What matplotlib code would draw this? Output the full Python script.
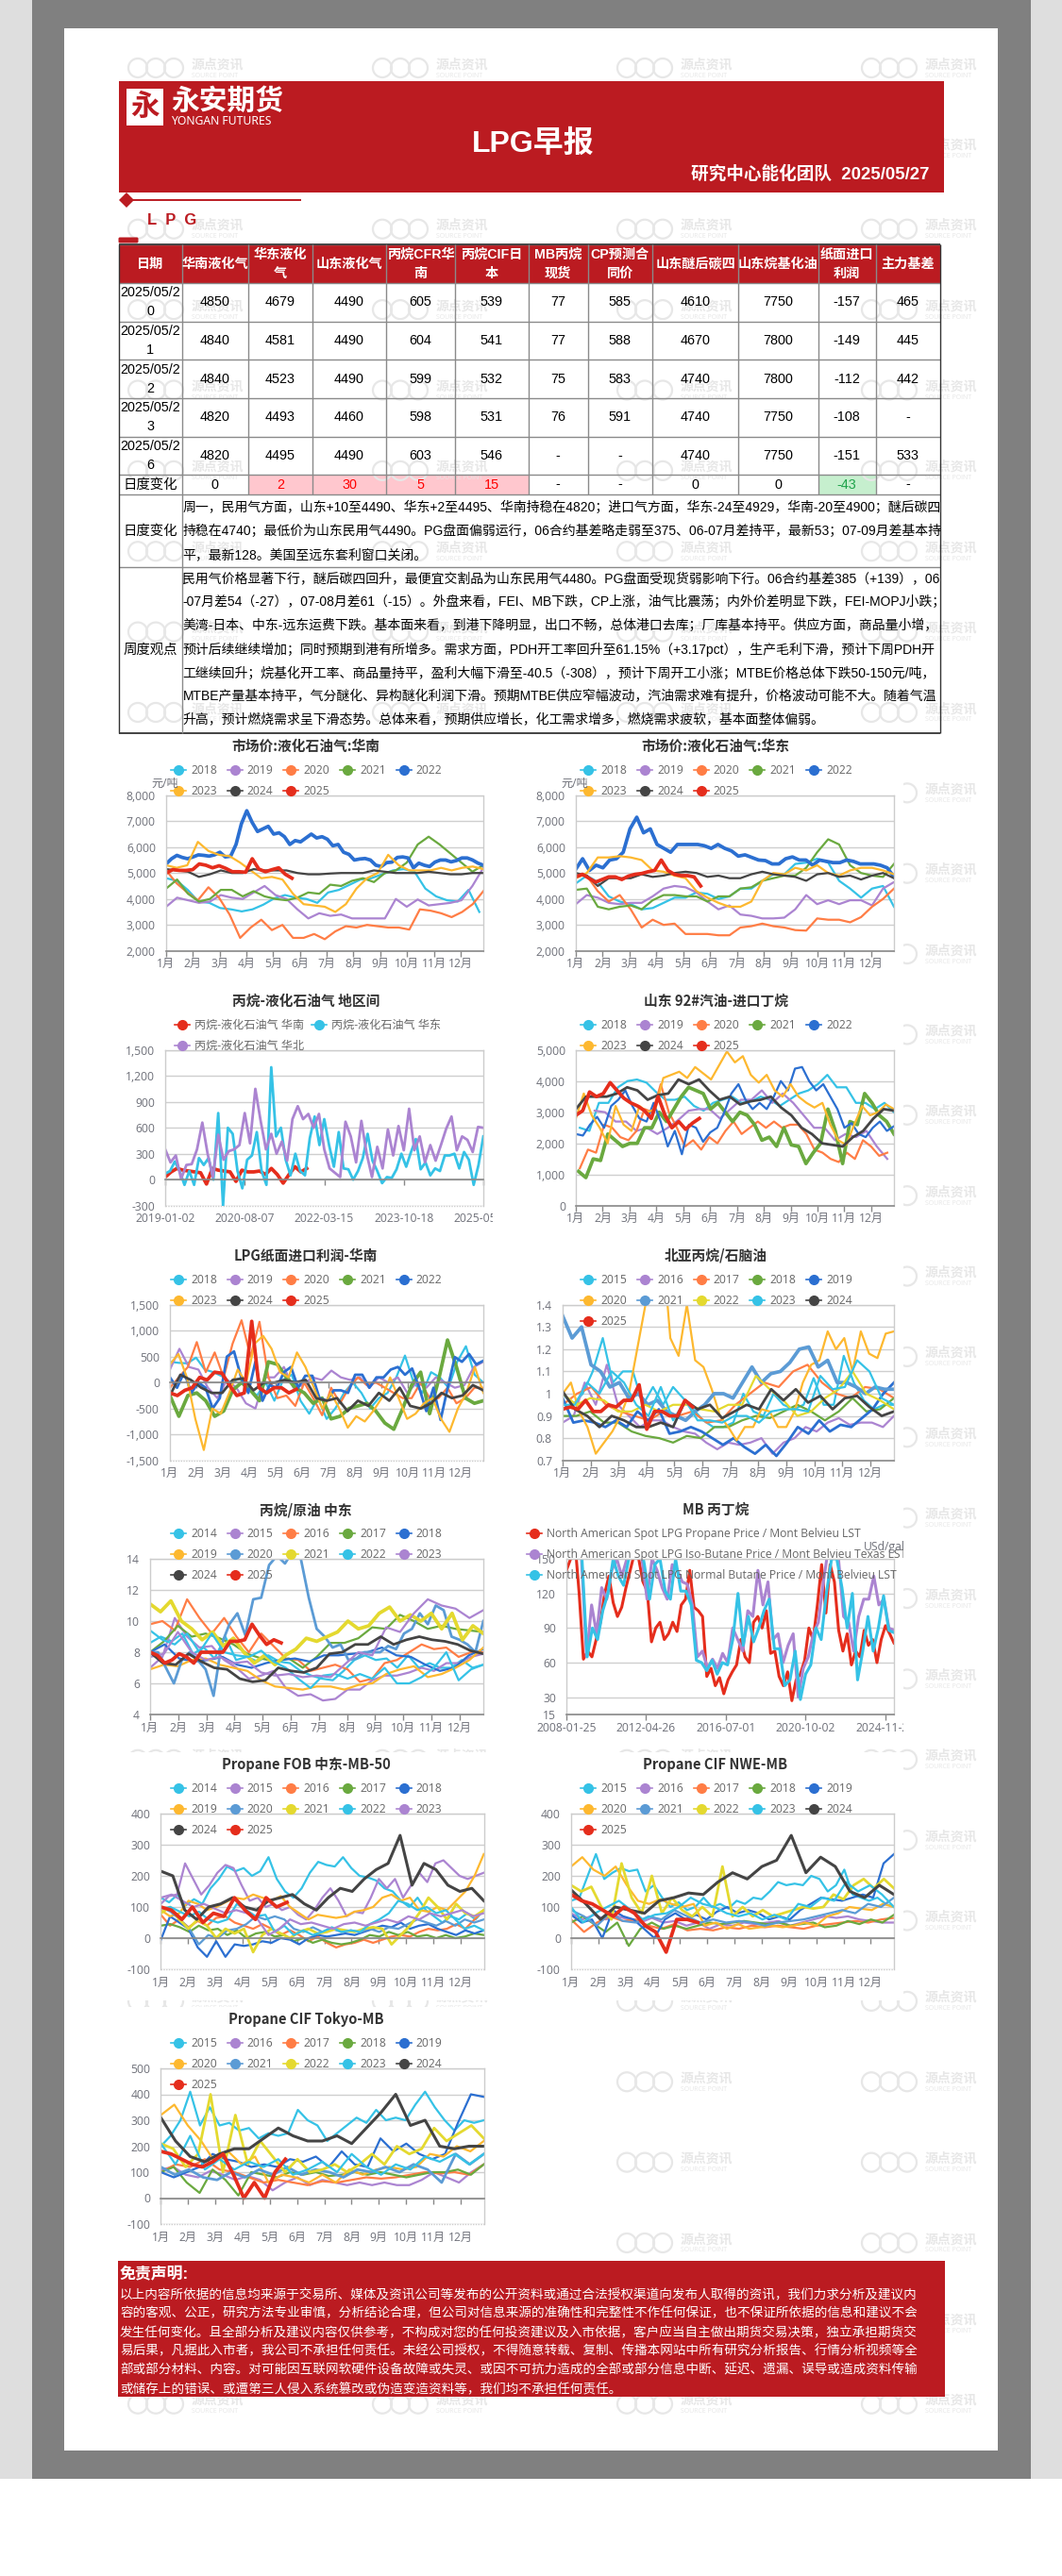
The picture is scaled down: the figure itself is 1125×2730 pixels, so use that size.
#encoding:utf-8
import numpy as np
import matplotlib
matplotlib.use('Agg')
import matplotlib.pyplot as plt
from matplotlib.patches import Rectangle, Circle, Polygon, FancyBboxPatch
from matplotlib.transforms import Bbox

W, H = 1125, 2730
plt.rcParams['font.family'] = ['Open Sans', 'Noto Sans CJK SC', 'DejaVu Sans']
TABLE_FONT = ['Liberation Sans', 'Noto Sans CJK SC']
CJK_BOLD = ['Noto Sans CJK SC', 'DejaVu Sans']
RED = '#bb1b21'

# ---------- table ----------
col_names = [['日期'], ['华南液化气'], ['华东液化', '气'], ['山东液化气'], ['丙烷CFR华', '南'], ['丙烷CIF日', '本'],
             ['MB丙烷', '现货'], ['CP预测合', '同价'], ['山东醚后碳四'], ['山东烷基化油'], ['纸面进口', '利润'], ['主力基差']]
row_dates = [['2025/05/2', '0'], ['2025/05/2', '1'], ['2025/05/2', '2'], ['2025/05/2', '3'], ['2025/05/2', '6']]
row_vals = [['4850', '4679', '4490', '605', '539', '77', '585', '4610', '7750', '-157', '465'],
            ['4840', '4581', '4490', '604', '541', '77', '588', '4670', '7800', '-149', '445'],
            ['4840', '4523', '4490', '599', '532', '75', '583', '4740', '7800', '-112', '442'],
            ['4820', '4493', '4460', '598', '531', '76', '591', '4740', '7750', '-108', '-'],
            ['4820', '4495', '4490', '603', '546', '-', '-', '4740', '7750', '-151', '533']]
change_vals = ['0', '2', '30', '5', '15', '-', '-', '0', '0', '-43', '-']
daily_lines = ['周一，民用气方面，山东+10至4490、华东+2至4495、华南持稳在4820；进口气方面，华东-24至4929，华南-20至4900；醚后碳四',
               '持稳在4740；最低价为山东民用气4490。PG盘面偏弱运行，06合约基差略走弱至375、06-07月差持平，最新53；07-09月差基本持',
               '平，最新128。美国至远东套利窗口关闭。']
weekly_lines = ['民用气价格显著下行，醚后碳四回升，最便宜交割品为山东民用气4480。PG盘面受现货弱影响下行。06合约基差385（+139），06',
                '-07月差54（-27），07-08月差61（-15）。外盘来看，FEI、MB下跌，CP上涨，油气比震荡；内外价差明显下跌，FEI-MOPJ小跌；',
                '美湾-日本、中东-远东运费下跌。基本面来看，到港下降明显，出口不畅，总体港口去库；厂库基本持平。供应方面，商品量小增，',
                '预计后续继续增加；同时预期到港有所增多。需求方面，PDH开工率回升至61.15%（+3.17pct），生产毛利下滑，预计下周PDH开',
                '工继续回升；烷基化开工率、商品量持平，盈利大幅下滑至-40.5（-308），预计下周开工小涨；MTBE价格总体下跌50-150元/吨，',
                'MTBE产量基本持平，气分醚化、异构醚化利润下滑。预期MTBE供应窄幅波动，汽油需求难有提升，价格波动可能不大。随着气温',
                '升高，预计燃烧需求呈下滑态势。总体来看，预期供应增长，化工需求增多，燃烧需求疲软，基本面整体偏弱。']
disclaimer_lines = ['以上内容所依据的信息均来源于交易所、媒体及资讯公司等发布的公开资料或通过合法授权渠道向发布人取得的资讯，我们力求分析及建议内',
                    '容的客观、公正，研究方法专业审慎，分析结论合理，但公司对信息来源的准确性和完整性不作任何保证，也不保证所依据的信息和建议不会',
                    '发生任何变化。且全部分析及建议内容仅供参考，不构成对您的任何投资建议及入市依据，客户应当自主做出期货交易决策，独立承担期货交',
                    '易后果，凡据此入市者，我公司不承担任何责任。未经公司授权，不得随意转载、复制、传播本网站中所有研究分析报告、行情分析视频等全',
                    '部或部分材料、内容。对可能因互联网软硬件设备故障或失灵、或因不可抗力造成的全部或部分信息中断、延迟、遗漏、误导或造成资料传输',
                    '或储存上的错误、或遭第三人侵入系统篡改或伪造变造资料等，我们均不承担任何责任。']

months = ['1月', '2月', '3月', '4月', '5月', '6月', '7月', '8月', '9月', '10月', '11月', '12月']

# ---------- 市场价 华南 ----------
c1_2018 = [4800, 4700, 4350, 3900, 3850, 3650, 3600, 3520, 3600, 3780, 4020, 4150, 4050, 4000, 3850, 4250, 4350, 4550, 4750, 4800, 4950, 5100, 5150, 5050, 4400, 4100, 3950, 3900, 4350, 3500]
c1_2019 = [3700, 4050, 3950, 3850, 3900, 4150, 4050, 4000, 4250, 4500, 4150, 4000, 3600, 3250, 3450, 3350, 3400, 3250, 3250, 3250, 3250, 4000, 3700, 3980, 3750, 3800, 3850, 3950, 4500, 5200]
c1_2020 = [5100, 4600, 4250, 3950, 4450, 4050, 3400, 2500, 2900, 3200, 2800, 3000, 2500, 2500, 2650, 2450, 2750, 2950, 2900, 3000, 2950, 2900, 2900, 2820, 3600, 3550, 3450, 3300, 3500, 3800, 4300]
c1_2021 = [4400, 4750, 4200, 3900, 4000, 4350, 4350, 4100, 4300, 4100, 4000, 3950, 4050, 4250, 4200, 4550, 4500, 4700, 4800, 4650, 5000, 5100, 5400, 6100, 6400, 6100, 5750, 5400, 5050, 5300]
c1_2022 = [5350, 5550, 5680, 5600, 5550, 5620, 5700, 5680, 5650, 5700, 5800, 5620, 5650, 6100, 6900, 7400, 6950, 6600, 6700, 6800, 6500, 6550, 6400, 6100,
           6250, 6200, 6350, 6500, 6350, 6400, 6300, 6050, 6100, 5800, 5720, 5500, 5540, 5560, 5500, 5300, 5250, 5400, 5420, 5600, 5620, 5580, 5200, 5380,
           5300, 5250, 5420, 5500, 5500, 5430, 5480, 5580, 5580, 5500, 5380, 5300]
c1_2023 = [5300, 5200, 5300, 6200, 5850, 5700, 5650, 5400, 5100, 4800, 4850, 4750, 4200, 3800, 3750, 3700, 3500, 3800, 4400, 4800, 5000, 5700, 5300, 5100, 5100, 5100, 5200, 5100, 5200, 5250, 5150]
c1_2024 = [5150, 5100, 5050, 4850, 4950, 5100, 5000, 5000, 5150, 5100, 5100, 5100, 5000, 4950, 4950, 4980, 5000, 5000, 5000, 5100, 5050, 5000, 5000, 5000, 5050, 5000, 4950, 4950, 5000, 5000]
c1_2025 = [5000, 5130, 5100, 5100, 5130, 5350, 5300, 5200, 5280, 5180, 5050, 5050, 5030, 5550, 5150, 5050, 5130, 5200, 4950, 4800]

# ---------- 市场价 华东 ----------
c2_2018 = [4600, 4900, 4650, 4100, 3900, 3800, 3600, 3650, 3850, 4050, 4050, 4250, 4200, 4000, 4100, 4400, 4400, 4700, 4950, 4950, 5350, 5400, 5550, 5400, 4700, 4400, 4050, 4400, 4500, 3700]
c2_2019 = [3800, 4150, 4050, 3850, 3800, 3850, 3850, 4100, 4400, 4500, 4450, 4250, 3900, 3600, 3750, 3400, 3350, 3250, 3250, 3280, 3600, 4150, 3800, 3950, 3800, 3950, 3950, 3750, 4400, 4650]
c2_2020 = [4900, 4900, 4300, 3900, 4150, 3600, 2900, 3200, 3000, 3050, 2650, 2650, 2650, 2600, 2600, 2900, 2950, 3050, 2950, 2900, 2800, 2780, 3250, 3200, 3200, 3100, 3300, 3700, 4000, 4400]
c2_2021 = [4350, 4400, 3700, 3600, 3700, 3750, 3600, 3950, 4150, 4150, 4100, 4100, 3900, 4100, 4100, 4400, 4450, 4700, 4800, 4900, 4900, 5200, 5800, 6300, 6100, 5300, 5000, 4900, 4850, 5350]
c2_2022 = [5150, 5550, 5100, 5300, 5200, 5500, 5550, 5800, 6700, 7150, 6550, 6700, 6100, 5950, 5800, 6100, 6100, 6100, 6100, 6050, 5950, 6100, 5950, 5850,
           5650, 5700, 5600, 5500, 5480, 5350, 5350, 5550, 5620, 5500, 5500, 5300, 5500, 5450, 5400, 5400, 5500, 5450, 5350, 5350, 5350, 5300, 5200, 4850]
c2_2023 = [4800, 5000, 5600, 5600, 5650, 5600, 5500, 5100, 5050, 4900, 4800, 4300, 4050, 3850, 3700, 3700, 3900, 4700, 5000, 4950, 5200, 5100, 5300, 5000, 4900, 5100, 5200, 5200, 5100, 4950]
c2_2024 = [5000, 4900, 4500, 4800, 4800, 4800, 4950, 4850, 4900, 5000, 5050, 5000, 4850, 4900, 4800, 4800, 4950, 5050, 4950, 4900, 4850, 4700, 4950, 5000, 4850, 4900, 4750, 4900, 5000, 4800]
c2_2025 = [4850, 4950, 4800, 4650, 4750, 4850, 4850, 4750, 4880, 4950, 4980, 5050, 5100, 5500, 5100, 4950, 4900, 4900, 4850, 4500]

# ---------- 丙烷-液化石油气 地区间 ----------
c3_south = [30, 90, 130, 110, 100, 90, 80, -50, 130, 110, 100, 90, -20, 110, 90, 90, 100, 60, 130, 60, -40, 60, 150, 90, 130]
c3_east = [70, 100, 210, 100, -60, 100, -60, 250, 170, 250, 0, 770, -300, 600, 530, 100, -100, 230, 280, 550, 100, -60, 1300, 500, 600, 230, 50, 300, 100, 50, 480, 730, 400, 700, 400, 150,
           550, 130, 120, 0, 100, 250, 530, 220, 100, -40, 30, 20, 120, 300, 150, 320, 470, 120, 200, 50, 130, 100, 280, 280, 300, 130, 320, 230, -60, 170, 500]
c3_north = [350, 200, 280, 10, 170, 180, 350, 660, 300, 30, 520, 230, 330, 350, 400, 770, 420, 1050, 680, 350, 530, 300, 440, 220, 700, 850, 700, 760, 600, 760, 350, 130, 80, 30,
            670, 500, 200, 680, 300, 30, 380, 130, 580, 280, 620, 340, 820, 340, 500, 200, 400, 220, 400, 590, 730, 340, 500, 460, 320, 610, 600]
c3_dates = ['2019-01-02', '2020-08-07', '2022-03-15', '2023-10-18', '2025-05-26']

# ---------- 山东 92#汽油-进口丁烷 ----------
c4_2018 = [2500, 2400, 3300, 3300, 3800, 4000, 4050, 3950, 3650, 3400, 3400, 3500, 3200, 3050, 3300, 3400, 3500, 3300, 3350, 3500, 3400, 3200, 3400, 3600, 3700, 3900, 4200, 3800, 3800, 3300, 3300, 3100, 3300, 3000]
c4_2019 = [3050, 3000, 2700, 2700, 2400, 2500, 2300, 2500, 2750, 3050, 3100, 3100, 2800, 3100, 3400, 3400, 3700, 3300, 3600, 3300, 2900, 2500, 2500, 2100, 2300, 2200, 2400, 1900, 1500]
c4_2020 = [1200, 1800, 1700, 2600, 2500, 2200, 2100, 2400, 3100, 3000, 3900, 3000, 2500, 1900, 2100, 1800, 2200, 2000, 2400, 2700, 2300, 2500, 2700, 2500, 2700, 2500, 2600, 2600, 2300, 1800, 1700, 1500, 1400, 1700, 1500, 2100, 1900, 1600, 1700]
c4_2021 = [1100, 900, 1500, 1450, 2300, 2100, 1900, 2000, 2000, 2500, 2500, 3000, 2700, 3100, 3500, 3800, 3700, 3600, 3100, 3300, 3000, 2700, 3000, 2900, 2600, 2100, 2200, 1900, 2500, 1950, 1900, 1350, 1700, 2000, 3100, 2400, 1350, 2700, 2600, 3600, 3300, 2900, 2700, 2300]
c4_2022 = [2300, 2250, 2600, 2850, 2500, 3200, 3400, 3700, 3200, 2800, 2700, 3300, 2700, 1900, 2400, 1650, 2600, 2500, 2050, 2350, 2500, 3000, 3600, 3900, 3400, 3100, 3300, 3100, 3500, 4000, 3700, 4400, 4450, 4000, 3700, 3900, 3500, 3100, 2500, 2650, 2300, 2200, 2500, 2700, 2400, 2550]
c4_2023 = [2800, 3600, 2900, 2500, 2000, 3200, 2600, 2400, 3200, 3000, 3100, 4100, 4200, 4300, 4100, 4450, 4250, 4050, 4500, 4950, 4600, 4800, 4200, 3950, 4200, 3700, 3500, 3900, 3500, 3300, 3150, 3300, 2600, 2100, 1950, 2600, 3200, 2900, 3000, 3250, 3100]
c4_2024 = [3100, 3500, 3500, 3500, 3600, 3800, 3700, 3400, 3550, 3600, 4050, 3900, 4050, 3700, 3400, 3500, 3250, 3350, 3400, 3500, 3150, 2900, 2500, 2300, 2000, 1950, 1900, 2200, 2400, 2800, 3100, 3050]
c4_2025 = [2900, 3050, 3650, 3500, 3600, 3950, 3700, 3450, 3300, 3200, 3050, 2800, 3500, 2900, 2500, 2700, 2450, 2650, 2800]

# ---------- LPG纸面进口利润-华南 ----------
c5_2018 = [400, 380, 370, 480, 250, 200, 120, 0, 80, -100, -250, 0, -350, 50, 150, -350, -600, -300, -700, -500, -200, 0, -200, -500, -300, -200, 100, 520, 0, -200, 200, 100, -100, 400, 700, 150, 0]
c5_2019 = [250, 650, 300, 250, -100, -300, 50, -100, -400, -500, 100, 100, 300, -100, -50, 100, 50, 230, 100, 50, 100, -100, 100, 0, 100, -200, 0, -100, 100, 0, -100, -50, 300, 400]
c5_2020 = [-100, 100, 300, 780, 200, 580, 100, 750, 1200, 500, 1170, 100, -300, -250, -450, 0, -300, -630, -100, -400, -100, 100, -50, 0, -100, -200, -300, -300, 0, -300, -300, -100, -400, -300, -100, -100]
c5_2021 = [-250, -650, -250, -200, -350, -650, -550, -150, 0, -150, -350, 400, 350, 100, -100, -200, -400, -300, -700, -650, -500, -450, -400, -550, -780, -900, -500, -50, 200, -600, 50, 820, 300, -300, -400, -350]
c5_2022 = [100, -100, 200, -200, 0, -100, -500, -300, 500, 600, 100, -200, 400, -350, -50, -100, 200, 300, -100, 130, 130, -300, -350, -150, -150, -200, 150, 150, -100, 100, 100, 250, 300, 150, 270, -100, -550, -100, -720, -100, 490, 400, 550, 350, 420]
c5_2023 = [350, 550, 100, -700, -1300, -500, -600, -200, 250, 0, 750, 900, 650, 200, 100, 580, 300, -100, -500, -200, -500, -870, -650, -750, -550, -300, 100, -300, -700, -600, -400, -300, -700, -950, -500, -200, 300, -200]
c5_2024 = [-250, 150, 50, -100, -200, -200, 50, 80, -150, 0, 0, 50, 0, 50, -300, -350, -300, -550, -350, -450, -200, -350, -100, -450, -500, -400, -200, -300, -250, -50, -150]
c5_2025 = [-200, -250, -150, -100, 100, 50, 200, 180, -50, -250, -200, 1180, -100, -200, -100, -100, -200, -130]

# ---------- 北亚丙烷/石脑油 ----------
c6_2015 = [1.0, 0.95, 1.0, 1.1, 1.25, 1.05, 1.1, 1.1, 0.95, 1.03, 0.95, 1.03, 0.98, 0.93, 0.88, 0.85, 0.85, 0.87, 1.0, 0.92, 0.9, 1.0, 0.95, 0.93, 0.95, 1.07, 0.95, 0.95, 1.17, 1.05, 0.97, 0.93, 0.95, 0.95]
c6_2016 = [0.87, 0.9, 1.05, 0.95, 1.13, 0.95, 0.9, 0.85, 0.88, 0.88, 0.85, 0.83, 0.82, 0.78, 0.75, 0.78, 0.77, 0.78, 0.8, 0.73, 0.78, 0.8, 0.85, 0.83, 0.87, 0.89, 0.86, 0.87, 0.87, 0.85, 0.9]
c6_2017 = [0.95, 1.0, 1.03, 0.95, 0.92, 0.9, 0.88, 0.92, 0.9, 0.92, 0.87, 0.88, 0.95, 1.0, 1.05, 1.03, 1.1, 1.13, 1.05, 1.0, 0.98, 1.03, 1.02, 0.98]
c6_2018 = [0.9, 0.9, 0.92, 0.87, 0.87, 0.83, 0.81, 0.8, 0.78, 0.81, 0.8, 0.85, 0.85, 0.88, 0.9, 0.89, 0.92, 0.95, 0.92, 0.88, 0.92, 0.98, 0.92, 0.93, 0.98]
c6_2019 = [0.98, 0.87, 0.88, 0.87, 0.85, 0.88, 0.85, 0.92, 0.88, 0.93, 0.82, 0.83, 0.85, 0.83, 0.8, 0.77, 0.8, 0.76, 0.73, 0.77, 0.72, 0.78, 0.85, 0.82, 0.88, 0.83, 0.86, 0.85, 0.89, 0.93, 1.0, 1.05]
c6_2020 = [1.0, 1.05, 0.92, 0.85, 0.73, 0.78, 0.83, 0.9, 1.0, 1.2, 1.4, 1.6, 1.7, 1.25, 1.17, 1.4, 1.15, 1.12, 1.02, 0.9, 0.85, 0.79, 0.85, 0.85, 0.93, 0.92, 0.85, 0.85, 0.92, 1.05, 1.13, 1.15, 1.28, 1.2, 1.25, 1.1, 1.28, 1.18, 1.16, 1.27, 1.28]
c6_2021 = [1.35, 1.25, 1.3, 1.13, 1.1, 1.03, 1.05, 0.98, 1.0, 0.95, 0.97, 0.92, 0.9, 0.88, 0.92, 0.95, 1.0, 1.0, 0.98, 1.05, 1.12, 1.05, 1.09, 1.1, 1.14, 1.2, 1.21, 1.12, 1.15, 1.05, 1.05, 1.03, 1.0, 1.03, 1.02, 1.02]
c6_2022 = [1.0, 0.95, 0.98, 0.97, 0.92, 0.92, 0.95, 0.92, 0.95, 0.95, 0.93, 0.92, 0.95, 0.95, 1.08, 1.02, 0.97, 0.9, 0.92, 0.98, 1.02, 1.1, 1.0, 0.97, 0.93]
c6_2023 = [0.95, 0.95, 1.05, 1.0, 1.1, 1.05, 0.95, 0.9, 1.03, 0.88, 0.97, 0.88, 0.88, 0.87, 0.9, 0.9, 0.87, 0.92, 0.93, 0.93, 0.92, 1.08, 1.02, 1.03, 1.15, 1.1, 0.98, 0.95]
c6_2024 = [1.01, 0.93, 0.9, 0.85, 0.9, 0.88, 0.85, 0.85, 0.87, 0.85, 0.97, 0.93, 0.95, 0.89, 0.92, 0.95, 0.93, 1.02, 0.97, 1.02, 0.96, 0.99, 0.93, 0.98, 0.99, 0.94, 0.9, 0.92]
c6_2025 = [0.93, 0.94, 0.93, 0.97, 0.92, 0.92, 0.95, 0.94, 0.97, 0.97, 1.04, 0.84, 0.92, 0.92, 0.9, 0.9, 0.97, 0.94]

# ---------- 丙烷/原油 中东 ----------
c7_2014 = [8.6, 9.0, 8.7, 9.2, 7.9, 8.3, 7.6, 9.0, 7.5, 7.7, 7.4, 7.8, 7.4, 7.3, 6.8, 6.5, 6.3, 6.2, 6.8, 7.5, 7.8, 7.5, 7.6, 7.0, 7.8, 7.0, 7.3, 7.0, 7.0, 7.5, 7.0, 7.2]
c7_2015 = [7.0, 7.7, 10.2, 9.0, 8.3, 8.4, 7.5, 7.0, 6.3, 6.5, 6.8, 5.7, 5.2, 5.3, 4.9, 5.0, 5.6, 5.6, 6.2, 6.5, 6.5, 6.7, 7.0, 6.8, 7.3, 7.3, 7.7, 7.9]
c7_2016 = [9.8, 10.0, 9.4, 11.4, 10.2, 9.2, 10.2, 9.0, 8.0, 9.2, 8.4, 7.6, 7.5, 6.8, 7.0, 7.2, 6.9, 6.1, 6.3, 7.3, 7.5, 8.0, 8.5, 8.2, 8.3, 7.7, 8.0, 8.0]
c7_2017 = [8.0, 8.7, 9.7, 9.0, 9.2, 8.9, 8.5, 7.9, 7.6, 7.4, 7.6, 7.0, 7.7, 8.6, 8.6, 8.9, 9.6, 9.5, 10.4, 10.0, 9.5, 9.7, 9.5, 9.4, 9.3]
c7_2018 = [8.0, 8.5, 7.6, 7.4, 7.5, 7.7, 7.2, 7.0, 7.3, 7.5, 7.6, 7.4, 7.8, 7.8, 7.9, 8.0, 8.3, 7.8, 7.7, 7.2, 6.8, 7.0, 7.8, 8.2]
c7_2019 = [6.9, 7.2, 7.1, 7.5, 7.6, 7.2, 7.0, 6.8, 6.2, 5.8, 5.7, 5.6, 5.8, 5.8, 5.6, 5.9, 6.0, 6.6, 6.9, 7.1, 6.4, 6.6, 7.0, 7.5, 8.3]
c7_2020 = [8.0, 8.0, 7.0, 6.0, 7.5, 8.0, 7.5, 6.9, 5.2, 8.5, 9.8, 10.5, 9.1, 11.4, 11.5, 13.6, 14.2, 13.7, 14.5, 14.0, 11.5, 9.5, 9.0, 8.3, 8.5, 7.5, 7.6, 8.0, 8.0, 8.0, 8.4, 8.2, 9.2, 9.5, 10.5, 9.8, 11.0, 10.7, 9.0, 8.8, 8.5, 8.0, 10.0]
c7_2021 = [11.1, 10.6, 11.3, 10.0, 9.5, 8.8, 9.3, 8.4, 8.9, 8.0, 7.3, 7.8, 7.2, 7.8, 8.2, 8.9, 8.7, 9.0, 9.3, 10.0, 9.5, 9.7, 10.5, 10.9, 10.0, 10.4, 10.0, 10.5, 9.5, 10.5, 8.8, 9.7, 9.2]
c7_2022 = [9.4, 8.8, 8.5, 9.2, 8.0, 9.2, 8.0, 7.8, 7.7, 8.1, 7.4, 7.0, 6.3, 5.7, 6.5, 6.6, 6.3, 6.6, 6.3, 7.0, 6.0, 6.0, 6.4, 7.0, 8.0, 6.2, 6.9, 7.2]
c7_2023 = [7.7, 7.9, 9.3, 8.0, 7.5, 7.7, 7.3, 7.4, 6.7, 6.5, 6.6, 6.4, 6.5, 6.4, 7.2, 8.0, 7.8, 9.6, 9.3, 10.5, 11.4, 11.0, 10.8, 10.2, 10.7]
c7_2024 = [8.0, 7.3, 7.2, 7.9, 7.4, 7.0, 6.9, 6.3, 6.1, 6.2, 7.0, 6.8, 6.7, 7.0, 7.9, 8.0, 8.5, 8.5, 9.0, 8.5, 8.8, 9.0, 8.8, 8.7, 8.5, 8.1, 7.9]
c7_2025 = [8.0, 7.8, 7.3, 7.5, 7.9, 7.7, 7.3, 8.0, 8.0, 8.0, 8.0, 8.7, 8.7, 8.8, 9.8, 9.1, 8.5, 8.8, 8.6]

# ---------- MB 丙丁烷 ----------
c8_propane = [140, 150, 165, 120, 63, 70, 65, 80, 95, 120, 135, 112, 100, 108, 125, 140, 155, 150, 130, 122, 78, 90, 95, 80, 85, 95, 87, 110, 115, 140, 108, 105, 100, 48, 55, 40, 47, 33, 45, 52, 58, 80, 65, 60,
              95, 100, 90, 105, 68, 70, 48, 40, 52, 27, 45, 50, 62, 90, 80, 110, 145, 103, 145, 130, 88, 70, 85, 58, 70, 65, 88, 75, 80, 60, 80, 92, 85, 77]
c8_iso = [170, 180, 175, 150, 65, 110, 85, 125, 115, 140, 150, 135, 150, 170, 170, 150, 115, 150, 140, 125, 115, 145, 140, 130, 128, 110, 65, 70, 55, 63, 55, 68, 60, 90, 80, 70,
          105, 100, 140, 110, 130, 80, 85, 60, 75, 85, 30, 55, 65, 85, 95, 130, 160, 165, 150, 100, 95, 70, 100, 115, 115, 135, 110, 115, 90, 88]
c8_normal = [170, 175, 170, 150, 65, 90, 80, 105, 120, 150, 135, 127, 150, 175, 170, 145, 115, 145, 150, 122, 115, 150, 122, 122, 110, 62, 60, 53, 62, 50, 60, 58, 80, 120, 75,
             100, 78, 90, 105, 115, 72, 72, 40, 45, 70, 28, 50, 58, 90, 80, 120, 150, 150, 125, 90, 120, 45, 70, 100, 70, 90, 118, 88, 86]
c8_dates = ['2008-01-25', '2012-04-26', '2016-07-01', '2020-10-02', '2024-11-22']

# ---------- Propane FOB 中东-MB-50 ----------
c9_2014 = [130, 115, 140, 105, 125, 110, 160, 190, 230, 215, 225, 200, 215, 260, 190, 150, 130, 160, 210, 245, 235, 230, 260, 225, 200, 195, 185, 160, 150, 120, 100, 130, 90, 70, 50, 70, 60, 80, 60, 90]
c9_2015 = [110, 135, 140, 240, 190, 140, 170, 210, 235, 225, 170, 120, 130, 100, 110, 90, 100, 75, 60, 90, 130, 160, 120, 70, 85, 80, 130, 190, 160, 190, 130, 170, 210, 180, 240, 250, 225, 200, 190, 200, 210]
c9_2016 = [75, 40, 60, 35, 55, 40, 65, 70, 50, 40, 30, 45, 30, 10, 25, 10, -10, 5, -15, -30, -20, -15, -5, -15, -5, 5, 10, 5, 20, 30, 25, 30, 45, 30, 60, 90]
c9_2017 = [40, 45, 35, 20, 40, 25, 30, 10, 25, 0, 15, 20, 5, 10, -10, 0, -15, -5, -15, -20, -15, -5, 10, 5, 20, 10, 20, 5, 10, 0, 10, 0, 5, 15, 10]
c9_2018 = [-5, 70, 50, 30, -30, -60, -10, -60, -20, -25, -20, -10, -15, 0, -5, -20, 0, 10, 5, 10, 15, 10, 20, 30, 40, 35, 50, 30, 40, 45, 30, 20, 10, 25, 15, 25]
c9_2019 = [90, 70, 80, 120, 110, 90, 100, 115, 130, 125, 140, 130, 120, 135, 100, 80, 60, 75, 70, 65, 70, 85, 90, 100, 130, 140, 120, 130, 90, 85, 100, 90, 120, 150, 200, 270]
c9_2020 = [100, 85, 60, 30, -20, 10, 0, 25, 30, 45, 70, 60, 70, 60, 30, 20, 35, 20, 30, 20, 25, 20, 30, 20, 35, 30, 45, 60, 50, 40, 55, 40, 60, 50, 60]
c9_2021 = [80, 100, 60, 30, 60, 40, 0, 30, 15, 30, -45, 10, 30, 15, 0, 20, 30, 15, 20, 30, 25, 20, 30, 35, 30, -20, 10, 40, 80, 130, 100, 60, 110, 80, 70, 90]
c9_2022 = [95, 100, 85, 70, 85, 60, 50, 60, 110, 90, 70, 75, 20, 40, 10, 25, 10, 20, 35, 20, 25, 20, 45, 60, 80, 120, 110, 90, 100, 80, 90, 60, 30, 40, 25]
c9_2023 = [130, 140, 120, 100, 110, 95, 80, 90, 80, 60, 10, 30, 60, 45, 50, 40, 30, 45, 50, 40, 50, 60, 50, 70, 60, 80, 70, 80, 90, 70, 80]
c9_2024 = [215, 200, 90, 60, 100, 110, 130, 100, 90, 120, 130, 140, 110, 90, 130, 160, 150, 190, 220, 240, 330, 170, 240, 220, 170, 150, 160, 120]
c9_2025 = [100, 90, 60, 100, 50, 80, 70, 130, 90, 60, 130, 100, 115]

# ---------- Propane CIF NWE-MB ----------
c10_2015 = [120, 130, 200, 270, 190, 210, 225, 215, 220, 150, 170, 130, 100, 115, 90, 100, 130, 100, 110, 95, 120, 110, 130, 125, 150, 180, 170, 175, 170, 200, 190, 150, 170, 220, 140, 130, 120, 130, 110, 100]
c10_2016 = [80, 60, 75, 60, 70, 60, 50, 65, 50, 55, 40, 50, 30, 45, 40, 50, 45, 50, 55, 40, 50, 60, 70, 65, 70, 60, 55, 50, 50]
c10_2017 = [60, 20, 50, 70, 55, 60, 40, 30, 45, 25, 30, 25, 35, 30, 40, 35, 40, 35, 30, 40, 45, 50, 55, 50, 60, 65]
c10_2018 = [50, 70, 45, 20, 50, -25, 30, 50, 30, 40, 30, 40, 50, 45, 50, 55, 50, 45, 50, 40, 45, 50, 35, 40, 55, 45, 60, 50, 75]
c10_2019 = [75, 50, 60, 0, 90, 70, 60, 30, 0, 60, 80, 60, 75, 60, 85, 100, 80, 90, 80, 60, 70, 60, 90, 110, 130, 125, 120, 130, 140, 130, 240, 270]
c10_2020 = [230, 260, 220, 200, 230, 170, 120, 110, 125, 110, 100, 110, 40, 50, 30, 45, 30, 35, 40, 35, 40, 50, 40, 70, 80, 100, 95, 90, 110, 100]
c10_2021 = [90, 70, 40, 80, 55, 50, 70, 60, 90, 70, 50, 60, 50, 55, 50, 40, 50, 55, 60, 70, 80, 90, 80, 110, 100, 130]
c10_2022 = [170, 150, 165, 100, 60, 240, 130, 80, 200, 80, 130, 90, 70, 100, 70, 230, 70, 100, 70, 90, 70, 80, 90, 100, 95, 100, 140, 125, 170, 190, 160, 190, 160]
c10_2023 = [100, 50, 80, 100, 120, 90, 60, 75, 80, 100, 130, 110, 100, 80, 70, 80, 60, 75, 60, 110, 100, 130, 120, 180, 150, 170, 140, 100]
c10_2024 = [155, 110, 60, 100, 90, 80, 120, 130, 145, 140, 180, 210, 190, 230, 250, 330, 210, 260, 230, 150, 130, 170, 140]
c10_2025 = [140, 120, 110, 90, 70, 100, 80, 40, 20, -45, 60, 60, 50]

# ---------- Propane CIF Tokyo-MB ----------
c11_2015 = [200, 240, 300, 410, 280, 350, 280, 290, 260, 270, 230, 250, 240, 250, 340, 300, 280, 220, 250, 280, 310, 290, 340, 300, 310, 300, 360, 410, 350, 300, 260, 300, 290, 300]
c11_2016 = [110, 120, 90, 80, 105, 90, 70, 85, 70, 30, 60, 80, 50, 70, 60, 50, 60, 50, 60, 50, 50, 70, 100, 80, 60, 100, 130]
c11_2017 = [100, 130, 120, 150, 110, 100, 80, 60, 70, 60, 50, 65, 60, 70, 80, 75, 80, 90, 100, 95, 100, 90, 130]
c11_2018 = [100, 120, 60, 20, 110, 70, 10, 100, 90, 80, 100, 90, 100, 85, 90, 100, 90, 100, 90, 80, 90, 100, 100, 110, 90, 130]
c11_2019 = [100, 80, 100, 120, 170, 150, 140, 120, 130, 120, 150, 140, 160, 120, 180, 130, 120, 230, 180, 210, 170, 150, 170, 290, 400, 390]
c11_2020 = [320, 360, 280, 220, 140, 180, 130, 160, 60, 90, 80, 60, 90, 60, 110, 90, 110, 120, 110, 120, 170, 160, 200, 180, 220]
c11_2021 = [120, 90, 110, 80, 70, 100, 80, 110, 90, 120, 90, 110, 100, 80, 110, 100, 120, 100, 130, 110, 60, 170, 130, 170]
c11_2022 = [210, 190, 120, 170, 400, 100, 320, 130, 220, 160, 100, 150, 100, 110, 130, 100, 130, 170, 130, 200, 170, 190, 270, 220, 250, 280, 230]
c11_2023 = [210, 130, 240, 110, 150, 110, 140, 120, 150, 90, 110, 140, 100, 170, 120, 90, 130, 110, 160, 140, 170, 130, 170]
c11_2024 = [310, 220, 160, 140, 170, 190, 190, 230, 270, 240, 220, 220, 240, 210, 270, 330, 400, 280, 300, 200, 190, 200, 200]
c11_2025 = [180, 170, 150, 130, 120, 140, 170, 90, 0, 60, 0, 100, 150]

CYAN, PURPLE, ORANGE, GREEN, BLUE, YELLOW, STEEL, LIME, DARK, CRIMSON = (
    '#35c2e6', '#ab84d1', '#ff7d45', '#6aa93f', '#2b6fd1', '#fdb82f', '#5b9bd5', '#e4d92f', '#444444', '#e52d1c')
pal8 = [CYAN, PURPLE, ORANGE, GREEN, BLUE, YELLOW, DARK, CRIMSON]
pal11 = [CYAN, PURPLE, ORANGE, GREEN, BLUE, YELLOW, STEEL, LIME, CYAN, DARK, CRIMSON]
pal12 = [CYAN, PURPLE, ORANGE, GREEN, BLUE, YELLOW, STEEL, LIME, CYAN, PURPLE, DARK, CRIMSON]
y8 = [str(y) for y in range(2018, 2026)]
y11 = [str(y) for y in range(2015, 2026)]
y12 = [str(y) for y in range(2014, 2026)]

fig = plt.figure(figsize=(W / 100, H / 100), dpi=100, facecolor='white')
bg = fig.add_axes([0, 0, 1, 1], zorder=0)
bg.set_xlim(0, W)
bg.set_ylim(H, 0)
bg.axis('off')
top_layer = fig.add_axes([0, 0, 1, 1], zorder=20)
top_layer.set_xlim(0, W)
top_layer.set_ylim(H, 0)
top_layer.axis('off')
top_layer.patch.set_alpha(0)


def rect(x0, y0, x1, y1, color, z=1):
    bg.add_patch(Rectangle((x0, y0), x1 - x0, y1 - y0, facecolor=color, edgecolor='none', zorder=z))


def hline(x0, x1, y, color='#8a8a8a', lw=1.0, z=5):
    bg.plot([x0, x1], [y, y], color=color, lw=lw, zorder=z, solid_capstyle='butt')


def vline(x, y0, y1, color='#8a8a8a', lw=1.0, z=5):
    bg.plot([x, x], [y0, y1], color=color, lw=lw, zorder=z, solid_capstyle='butt')


def cell_text(x, y, s, size=10.4, color='black', ha='center', weight='normal', family=TABLE_FONT, z=6):
    return bg.text(x, y, s, fontsize=size, color=color, ha=ha, va='center', fontweight=weight, family=family, zorder=z)


# page
rect(0, 0, 34, 2627, '#dedede')
rect(1092, 0, W, 2627, '#dedede')
rect(34, 0, 1092, 2627, '#808080')
rect(68, 30, 1057, 2597, 'white')

# watermark grid
WM = '#e7e7e7'
for k in range(30):
    wy = 72 + 85.37 * k
    for j in range(4):
        wx = 136 + 259 * j
        for dx in (10, 29, 48):
            bg.add_patch(Circle((wx + dx, wy), 10, fill=False, edgecolor=WM, lw=1.6, zorder=2))
        bg.text(wx + 67, wy - 4, '源点资讯', fontsize=10, color=WM, ha='left', va='center', family=CJK_BOLD, fontweight='bold', zorder=2)
        bg.text(wx + 67, wy + 8, 'SOURCE POINT', fontsize=5, color=WM, ha='left', va='center', zorder=2)

# header
rect(125.5, 86, 1000, 204, RED, z=3)
rect(134, 94, 173, 133, 'white', z=4)
cell_text(153.5, 113, '永', size=22, color=RED, weight='bold', family=CJK_BOLD)
cell_text(181, 107, '永安期货', size=21.4, color='white', ha='left', weight='bold', family=CJK_BOLD)
cell_text(181, 129, 'YONGAN FUTURES', size=8.8, color='white', ha='left', weight='bold', family=['Noto Sans'])
cell_text(565, 153, 'LPG早报', size=23, color='white', weight='bold')
cell_text(984, 184, '研究中心能化团队  2025/05/27', size=13.4, color='white', ha='right', weight='bold')
hline(134, 319, 212, color=RED, lw=1.4)
bg.add_patch(Polygon([[134, 204], [142, 212], [134, 220], [126, 212]], closed=True, facecolor=RED, edgecolor='none', zorder=5))
cell_text(156, 234, 'L  P  G', size=12, color=RED, ha='left', weight='bold')
bg.add_patch(FancyBboxPatch((127, 253), 18, 3, boxstyle='round,pad=1.5', facecolor=RED, edgecolor='none', zorder=5))

# table
col_x = [125.5, 192.5, 263, 331, 409, 482, 559.5, 622.7, 691, 782, 866.6, 927.6, 995.7]
row_y = [259, 300, 340.7, 381, 422, 462.7, 503, 524]
rect(col_x[0], row_y[0], col_x[-1], row_y[1], RED, z=3)
rect(col_x[2], row_y[6], col_x[6], row_y[7], '#ffc7ce', z=1.5)
rect(col_x[10], row_y[6], col_x[11], row_y[7], '#c6efce', z=1.5)
for i, name in enumerate(col_names):
    cx = (col_x[i] + col_x[i + 1]) / 2
    if len(name) == 1:
        cell_text(cx, 280, name[0], color='white', weight='bold', size=10.2)
    else:
        cell_text(cx, 270, name[0], color='white', weight='bold', size=10.2)
        cell_text(cx, 290, name[1], color='white', weight='bold', size=10.2)
for r, (date, vals) in enumerate(zip(row_dates, row_vals)):
    my = (row_y[r + 1] + row_y[r + 2]) / 2
    cell_text((col_x[0] + col_x[1]) / 2, my - 10, date[0], size=10.4)
    cell_text((col_x[0] + col_x[1]) / 2, my + 10, date[1], size=10.4)
    for c, v in enumerate(vals):
        cell_text((col_x[c + 1] + col_x[c + 2]) / 2, my, v)
cell_text((col_x[0] + col_x[1]) / 2, 513.5, '日度变化')
for c, v in enumerate(change_vals):
    tc = '#ff0000' if c in (1, 2, 3, 4) else ('#1fa34a' if c == 9 else 'black')
    cell_text((col_x[c + 1] + col_x[c + 2]) / 2, 513.5, v, color=tc)
cell_text((col_x[0] + col_x[1]) / 2, 563, '日度变化')
cell_text((col_x[0] + col_x[1]) / 2, 689, '周度观点')
for i, line in enumerate(daily_lines):
    cell_text(193.5, 537.7 + i * 25.3, line, ha='left', size=10.0)
for i, line in enumerate(weekly_lines):
    cell_text(193.5, 613 + i * 25.1, line, ha='left', size=10.0)
for y in row_y:
    hline(col_x[0], col_x[-1], y)
hline(col_x[0], col_x[-1], 259, color='#333333', lw=1.2)
hline(col_x[0], col_x[-1], 600.7)
hline(col_x[0], col_x[-1], 776.7, color='#222222', lw=1.2)
for x in col_x[1:-1]:
    vline(x, 259, 524)
vline(col_x[1], 524, 776.7)
vline(col_x[0], 259, 776.7, color='#333333')
vline(col_x[-1], 259, 776.7, color='#333333')

# disclaimer
rect(125, 2396, 1001, 2540, RED, z=3)
cell_text(127, 2409, '免责声明:', size=12.2, color='white', ha='left', weight='bold')
for i, line in enumerate(disclaimer_lines):
    cell_text(127, 2431.7 + i * 20, line, color='white', ha='left', size=9.78)

TICK = '#6e7079'
FS = 8.7


def clip_px(t, x1):
    t.set_clip_on(True)
    t.set_clip_box(Bbox.from_extents(0, 0, x1, H))


def draw_chart(column, top, title, names, series, colors, widths, yticks, ylabels, spans=None, xticks=None, xlabels=None,
               left=176, right=512, legend_x=189, legend_step=59.67, legend_cols=5, zero=False, xend=11.85, unit=None, clip_right=None):
    cx = 324 if column == 0 else 758
    # opaque picture behind every chart
    rect(125 if column == 0 else 557, top - 65, 557 if column == 0 else 957, top + 198, 'white', z=2.5)
    bottom = top + 165
    ax = fig.add_axes([left / W, 1 - bottom / H, (right - left) / W, 165 / H], zorder=5)
    ax.patch.set_alpha(0)
    ax.set_ylim(yticks[0], yticks[-1])
    ax.set_xlim(0, xend)
    ax.set_yticks(yticks)
    ax.set_yticklabels(ylabels)
    ax.tick_params(axis='y', length=0, labelsize=FS, labelcolor=TICK, pad=8)
    ax.grid(axis='y', color='#cfcfcf', lw=1.0)
    ax.set_axisbelow(True)
    for side in ('left', 'top', 'right'):
        ax.spines[side].set_color('#cccccc')
        ax.spines[side].set_linestyle((0, (1, 1)))
        ax.spines[side].set_linewidth(1.0)
    if xticks is None:
        xticks = list(range(12))
        xlabels = months
    ax.set_xticks(xticks)
    ax.set_xticklabels([])
    ax.tick_params(axis='x', length=4, width=1, color='#888888')
    ax.spines['bottom'].set_color('#888888')
    ax.spines['bottom'].set_linewidth(1.2)
    if zero:
        ax.spines['bottom'].set_position(('data', 0))
        ax.axhline(yticks[0], color='#cccccc', lw=1.0, ls=(0, (1, 1)), clip_on=False)
    for v, lab in zip(xticks, xlabels):
        t = ax.annotate(lab, (v, 0), xycoords=('data', 'axes fraction'), xytext=(0, -10.1), textcoords='offset points',
                        ha='center', va='center', fontsize=FS, color=TICK, annotation_clip=False)
        if column == 0:
            clip_px(t, 522)
        else:
            clip_px(t, 957)
    for name, vals, col, lw in zip(names, series, colors, widths):
        x0, x1 = (spans or {}).get(name, (0, xend))
        ax.plot(np.linspace(x0, x1, len(vals)), vals, color=col, lw=lw, solid_joinstyle='round')
    top_layer.text(cx, top - 52, title, fontsize=10.6, fontweight='bold', color='#333333', ha='center', va='center', family=CJK_BOLD)
    for i, (name, col) in enumerate(zip(names, colors)):
        r = i // legend_cols
        mx = legend_x + (i % legend_cols) * legend_step
        my = top - 26.7 + r * 22
        top_layer.plot([mx - 8, mx + 8], [my, my], color=col, lw=1.2)
        top_layer.plot([mx], [my], marker='o', ms=7, color=col, mec=col)
        t = top_layer.text(mx + 13, my, name, fontsize=FS, color='#666666', ha='left', va='center')
        if clip_right:
            clip_px(t, clip_right)
    if unit:
        t = top_layer.text(unit[0], unit[1], unit[2], fontsize=FS, color=TICK, ha='left', va='center')
        if clip_right:
            clip_px(t, clip_right)
    return ax


th, tk = 1.6, 2.7
draw_chart(0, 842.7, '市场价:液化石油气:华南', y8, [c1_2018, c1_2019, c1_2020, c1_2021, c1_2022, c1_2023, c1_2024, c1_2025], pal8,
           [th, th, th, th, tk, th, th, tk], [2000, 3000, 4000, 5000, 6000, 7000, 8000], ['2,000', '3,000', '4,000', '5,000', '6,000', '7,000', '8,000'],
           spans={'2025': (0, 4.7), '2018': (0, 11.7)}, unit=(160, 830.7, '元/吨'))
draw_chart(1, 842.7, '市场价:液化石油气:华东', y8, [c2_2018, c2_2019, c2_2020, c2_2021, c2_2022, c2_2023, c2_2024, c2_2025], pal8,
           [th, th, th, th, tk, th, th, tk], [2000, 3000, 4000, 5000, 6000, 7000, 8000], ['2,000', '3,000', '4,000', '5,000', '6,000', '7,000', '8,000'],
           spans={'2025': (0, 4.65)}, left=610, right=947, legend_x=623.3, unit=(594, 830.7, '元/吨'))
draw_chart(0, 1112.7, '丙烷-液化石油气 地区间', ['丙烷-液化石油气 华南', '丙烷-液化石油气 华东', '丙烷-液化石油气 华北'], [c3_south, c3_east, c3_north],
           [CRIMSON, CYAN, PURPLE], [tk, 2.0, 2.0], [-300, 0, 300, 600, 900, 1200, 1500], ['-300', '0', '300', '600', '900', '1,200', '1,500'],
           spans={'丙烷-液化石油气 华南': (0, 1.78)}, xticks=[0, 1, 2, 3, 4], xlabels=c3_dates, xend=4.0, zero=True,
           legend_x=192.7, legend_step=145.3, legend_cols=2, left=175)
draw_chart(1, 1112.7, '山东 92#汽油-进口丁烷', y8, [c4_2018, c4_2019, c4_2020, c4_2021, c4_2022, c4_2023, c4_2024, c4_2025], pal8,
           [th, th, th, tk, th, th, 2.0, tk], [0, 1000, 2000, 3000, 4000, 5000], ['0', '1,000', '2,000', '3,000', '4,000', '5,000'],
           spans={'2018': (0.15, 11.85), '2019': (0.7, 11.6), '2020': (0.15, 11.6), '2021': (0.1, 11.85), '2025': (0, 4.6)},
           left=610, right=947, legend_x=623.3)
draw_chart(0, 1382.7, 'LPG纸面进口利润-华南', y8, [c5_2018, c5_2019, c5_2020, c5_2021, c5_2022, c5_2023, c5_2024, c5_2025], pal8,
           [th, th, th, tk, 2.0, th, 2.0, tk], [-1500, -1000, -500, 0, 500, 1000, 1500], ['-1,500', '-1,000', '-500', '0', '500', '1,000', '1,500'],
           spans={'2025': (0, 4.78)}, left=180, zero=True)
draw_chart(1, 1382.7, '北亚丙烷/石脑油', y11, [c6_2015, c6_2016, c6_2017, c6_2018, c6_2019, c6_2020, c6_2021, c6_2022, c6_2023, c6_2024, c6_2025], pal11,
           [th, th, th, th, 2.0, th, tk, th, th, 2.0, tk], [0.7, 0.8, 0.9, 1.0, 1.1, 1.2, 1.3, 1.4], ['0.7', '0.8', '0.9', '1', '1.1', '1.2', '1.3', '1.4'],
           spans={'2025': (0, 4.65)}, left=596, right=947, legend_x=623.3)
draw_chart(0, 1652, '丙烷/原油 中东', y12, [c7_2014, c7_2015, c7_2016, c7_2017, c7_2018, c7_2019, c7_2020, c7_2021, c7_2022, c7_2023, c7_2024, c7_2025], pal12,
           [th, th, th, th, th, th, 2.0, tk, th, th, 2.0, tk], [4, 6, 8, 10, 12, 14], ['4', '6', '8', '10', '12', '14'],
           spans={'2025': (0, 4.66)}, left=159)
draw_chart(1, 1652, 'MB 丙丁烷', ['North American Spot LPG Propane Price / Mont Belvieu LST', 'North American Spot LPG Iso-Butane Price / Mont Belvieu Texas LST', 'North American Spot LPG Normal Butane Price / Mont Belvieu LST'],
           [c8_propane, c8_iso, c8_normal], [CRIMSON, PURPLE, CYAN], [2.2, 2.2, 2.2], [15, 30, 60, 90, 120, 150], ['15', '30', '60', '90', '120', '150'],
           xticks=[0, 1, 2, 3, 4], xlabels=c8_dates, xend=4.11, left=600, right=947, legend_x=566, legend_cols=1, unit=(915, 1640, 'USd/gal'), clip_right=957)
draw_chart(0, 1922, 'Propane FOB 中东-MB-50', y12, [c9_2014, c9_2015, c9_2016, c9_2017, c9_2018, c9_2019, c9_2020, c9_2021, c9_2022, c9_2023, c9_2024, c9_2025], pal12,
           [th, th, th, th, th, th, th, 2.0, th, th, 2.2, tk], [-100, 0, 100, 200, 300, 400], ['-100', '0', '100', '200', '300', '400'],
           spans={'2025': (0, 4.63)}, left=170.4, right=512.5, zero=True)
draw_chart(1, 1922, 'Propane CIF NWE-MB', y11, [c10_2015, c10_2016, c10_2017, c10_2018, c10_2019, c10_2020, c10_2021, c10_2022, c10_2023, c10_2024, c10_2025], pal11,
           [th, th, th, th, th, th, th, 2.0, th, 2.2, tk], [-100, 0, 100, 200, 300, 400], ['-100', '0', '100', '200', '300', '400'],
           spans={'2025': (0, 4.65)}, left=605, right=947, legend_x=623.3, zero=True)
draw_chart(0, 2192, 'Propane CIF Tokyo-MB', y11, [c11_2015, c11_2016, c11_2017, c11_2018, c11_2019, c11_2020, c11_2021, c11_2022, c11_2023, c11_2024, c11_2025], pal11,
           [th, th, th, th, th, th, 2.0, 2.0, th, 2.2, tk], [-100, 0, 100, 200, 300, 400, 500], ['-100', '0', '100', '200', '300', '400', '500'],
           spans={'2025': (0, 4.57)}, left=170.4, right=512.5, zero=True)

plt.savefig('out.png', dpi=100)
plt.close()
